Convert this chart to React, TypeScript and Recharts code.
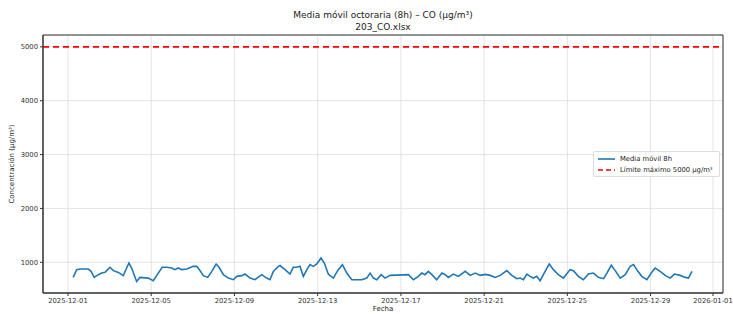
import React from 'react';
import {
  LineChart, Line, XAxis, YAxis, CartesianGrid, ReferenceLine, ReferenceArea,
} from 'recharts';

// fractional days since 2025-12-01 00:00
const days = [
  0.25, 0.42, 0.58, 0.98, 1.11, 1.26, 1.46, 1.62, 1.78, 1.91, 2.02, 2.18, 2.42, 2.66, 2.82, 2.93,
  3.06, 3.30, 3.46, 3.86, 4.10, 4.34, 4.53, 4.75, 4.99, 5.14, 5.30, 5.47, 5.71, 6.02, 6.19, 6.35,
  6.50, 6.72, 6.91, 7.12, 7.26, 7.47, 7.71, 7.95, 8.11, 8.35, 8.51, 8.75, 8.99, 9.31, 9.55, 9.71,
  9.87, 10.11, 10.19, 10.43, 10.67, 10.83, 10.99, 11.15, 11.31, 11.48, 11.63, 11.79, 11.96, 12.16,
  12.32, 12.51, 12.75, 12.99, 13.19, 13.40, 13.64, 14.12, 14.36, 14.52, 14.68, 14.84, 15.05, 15.24,
  15.48, 16.36, 16.60, 16.84, 17.00, 17.16, 17.32, 17.49, 17.72, 17.97, 18.13, 18.28, 18.52, 18.76,
  19.09, 19.33, 19.57, 19.81, 20.05, 20.29, 20.53, 20.77, 21.09, 21.33, 21.57, 21.73, 21.89, 22.05,
  22.21, 22.37, 22.53, 22.69, 22.93, 23.13, 23.33, 23.57, 23.81, 24.13, 24.29, 24.53, 24.77, 25.01,
  25.25, 25.49, 25.74, 25.90, 26.11, 26.30, 26.54, 26.78, 27.02, 27.18, 27.39, 27.58, 27.82, 28.03,
  28.22, 28.46, 28.70, 28.94, 29.15, 29.42, 29.66, 29.82, 29.99,
];

const co8h = [
  720, 864, 875, 875, 832, 720, 770, 800, 813, 864, 907, 845, 813, 752, 894, 987,
  894, 645, 720, 707, 659, 800, 907, 907, 894, 864, 894, 864, 875, 925, 925, 845,
  752, 720, 832, 968, 907, 770, 707, 677, 739, 752, 782, 707, 677, 770, 707, 677,
  832, 925, 940, 864, 782, 907, 907, 925, 739, 864, 957, 925, 968, 1080,
  987, 782, 707, 864, 957, 800, 677, 677, 707, 800, 707, 677, 770, 707,
  757, 770, 677, 739, 800, 770, 832, 770, 677, 800, 770, 720, 782, 739,
  832, 757, 800, 757, 776, 757, 720, 757, 845, 757, 696, 707, 677, 782,
  739, 707, 739, 659, 832, 968, 864, 770, 707, 864, 845, 739, 677, 782,
  800, 720, 696, 800, 944, 845, 707, 770, 925, 957, 832, 739, 677, 800,
  894, 832, 757, 707, 782, 757, 720, 707, 832,
];

const xTicks = [0, 4, 8, 12, 16, 20, 24, 28, 31];
const yTicks = [1000, 2000, 3000, 4000, 5000];
const limit = 5000;

const xDomain: [number, number] = [-1.2, 31.48];
const yDomain: [number, number] = [430, 5220];

const data = days.map((d, i) => ({ d, v: co8h[i] }));

const fmtDate = (d: number) =>
  new Date(Date.UTC(2025, 11, 1) + d * 86400000).toISOString().slice(0, 10);

const font = '"DejaVu Sans", sans-serif';
const tick = { fill: '#333', fontSize: 6.8, fontFamily: font };

const LegendBox = () => (
  <div style={{
    position: 'absolute', left: 593, top: 151, width: 117, whiteSpace: 'nowrap',
    background: '#fff', border: '1px solid #ddd', borderRadius: 2,
    padding: '1px 4px', fontFamily: font, fontSize: 6.8, color: '#222',
  }}>
    <div style={{ display: 'flex', alignItems: 'center', height: 11 }}>
      <svg width={17} height={4} style={{ marginRight: 5 }}>
        <line x1={0} y1={2} x2={17} y2={2} stroke="#1f77b4" strokeWidth={1.6} />
      </svg>
      Media móvil 8h
    </div>
    <div style={{ display: 'flex', alignItems: 'center', height: 11 }}>
      <svg width={17} height={4} style={{ marginRight: 5 }}>
        <line x1={0} y1={2} x2={17} y2={2} stroke="#ff0000" strokeWidth={1.6} strokeDasharray="5 3" />
      </svg>
      Límite máximo 5000 µg/m³
    </div>
  </div>
);

export default function App() {
  return (
    <div style={{ position: 'absolute', left: 0, top: 0, width: 733, height: 314, background: '#fff', fontFamily: font }}>
      <div style={{ position: 'absolute', left: 43, width: 680, top: 9, textAlign: 'center', fontSize: 9, color: '#222', lineHeight: '12px' }}>
        Media móvil octoraria (8h) – CO (µg/m³)<br />203_CO.xlsx
      </div>
      <div style={{
        position: 'absolute', left: 12, top: 164, fontSize: 7, color: '#222', whiteSpace: 'nowrap',
        transform: 'translate(-50%, -50%) rotate(-90deg)',
      }}>
        Concentración (µg/m³)
      </div>
      <div style={{ position: 'absolute', left: 383, top: 305, transform: 'translateX(-50%)', fontSize: 7, color: '#222' }}>
        Fecha
      </div>
      <LineChart width={733} height={314} data={data} margin={{ top: 35, right: 10, bottom: 0, left: 0 }}>
        <CartesianGrid stroke="#dcdcdc" strokeWidth={0.8} />
        <XAxis
          dataKey="d" type="number" domain={xDomain} ticks={xTicks} tickFormatter={fmtDate}
          allowDataOverflow height={21} tick={tick} tickSize={3} stroke="#333" interval={0}
        />
        <YAxis
          type="number" domain={yDomain} ticks={yTicks} allowDataOverflow width={43}
          tick={tick} tickSize={3} stroke="#333"
        />
        <ReferenceArea x1={xDomain[0]} x2={xDomain[1]} y1={yDomain[0]} y2={yDomain[1]} fill="none" stroke="#333" strokeWidth={1} ifOverflow="visible" />
        <ReferenceLine y={limit} stroke="#ff0000" strokeWidth={1.6} strokeDasharray="6 4" />
        <Line dataKey="v" stroke="#1f77b4" strokeWidth={1.6} dot={false} isAnimationActive={false} />
      </LineChart>
      <LegendBox />
    </div>
  );
}
